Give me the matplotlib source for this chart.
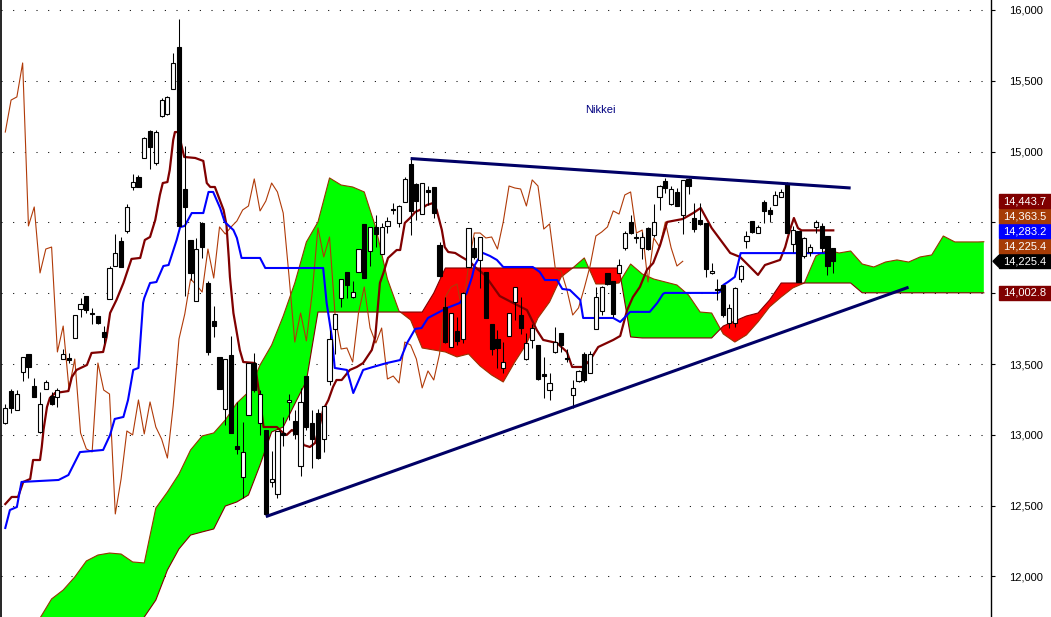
import numpy as np
import matplotlib
matplotlib.use("Agg")
import matplotlib.pyplot as plt
from matplotlib.patches import Rectangle, Polygon

plt.rcParams['font.family'] = ['Liberation Sans', 'DejaVu Sans']

# daily candles, oldest first
opens = [13083, 13309, 13175, 13444, 13571, 13345, 13020, 13324, 13274, 13267,
         13535, 13542, 13684, 13888, 13980, 13860, 13839, 13726, 13959, 14192,
         14369, 14439, 14750, 14821, 14955, 15145, 14919, 15251, 15266, 15442,
         15739, 14736, 14376, 13945, 14496, 14072, 13804, 13550, 13182, 13564,
         12921, 12702, 13140, 13507, 13083, 13034, 12667, 12582, 13013, 13232,
         13098, 12780, 13415, 13083, 13154, 12970, 13380, 13747, 13966, 14150,
         13973, 14150, 14489, 14298, 14468, 14277, 14475, 14595, 14496, 14644,
         14912, 14771, 14559, 14729, 14750, 14340, 13903, 13620, 13733, 13677,
         14185, 14320, 14235, 14150, 13783, 13677, 13472, 13698, 13938, 13846,
         13535, 13670, 13634, 13429, 13316, 13585, 13719, 13542, 13281, 13380,
         13571, 13437, 13747, 13874, 14143, 14086, 14143, 14319, 14503, 14397,
         14319, 14461, 14411, 14679, 14792, 14630, 14715, 14552, 14807, 14531,
         14517, 14496, 14143, 14030, 14058, 13790, 13790, 14100, 14369, 14510,
         14425, 14644, 14588, 14623, 14679, 14778, 14347, 14439, 14263, 14291,
         14468, 14475, 14404, 14320]
highs = [13218, 13324, 13316, 13550, 13571, 13401, 13302, 13387, 13302, 13331,
         13606, 13578, 13846, 13966, 13980, 13895, 13839, 13768, 14192, 14418,
         14397, 14630, 14842, 14835, 15103, 15152, 15152, 15379, 15393, 15696,
         15936, 15037, 14376, 14390, 14503, 14086, 13910, 13550, 13535, 13698,
         13232, 13090, 13507, 13578, 13316, 13034, 12886, 13027, 13126, 13288,
         13175, 13331, 13415, 13175, 13182, 13204, 13740, 13853, 14100, 14150,
         14086, 14312, 14489, 14468, 14552, 14496, 14538, 14637, 14623, 14821,
         14948, 14778, 14778, 14757, 14750, 14362, 13973, 13860, 13832, 14008,
         14461, 14397, 14397, 14150, 13783, 13740, 13655, 13860, 14044, 13973,
         13719, 13783, 13634, 13550, 13437, 13761, 13719, 13606, 13387, 13458,
         13585, 13592, 14044, 14051, 14143, 14086, 14242, 14439, 14552, 14425,
         14432, 14468, 14630, 14764, 14814, 14757, 14743, 14800, 14814, 14637,
         14637, 14496, 14213, 14100, 14058, 13924, 14044, 14199, 14439, 14510,
         14482, 14658, 14609, 14722, 14736, 14785, 14475, 14439, 14397, 14348,
         14517, 14496, 14404, 14320]
lows = [13075, 13154, 13175, 13380, 13401, 13267, 13013, 13324, 13211, 13196,
        13535, 13507, 13684, 13832, 13860, 13783, 13783, 13648, 13959, 14192,
        14185, 14425, 14729, 14750, 14955, 14877, 14905, 15244, 15260, 15442,
        14475, 13980, 14093, 13945, 14249, 13564, 13691, 13324, 13069, 13013,
        12864, 12554, 13140, 13302, 12999, 12427, 12631, 12554, 12921, 13105,
        12970, 12709, 13034, 12766, 12829, 12879, 13352, 13571, 13903, 13966,
        13966, 14150, 14107, 14192, 14326, 14277, 14425, 14559, 14468, 14644,
        14411, 14517, 14559, 14623, 14531, 14114, 13648, 13620, 13634, 13648,
        14185, 14242, 14037, 13825, 13564, 13472, 13437, 13698, 13811, 13712,
        13528, 13613, 13387, 13260, 13246, 13578, 13585, 13514, 13189, 13373,
        13373, 13437, 13747, 13846, 14058, 13832, 14143, 14305, 14418, 14355,
        14242, 14305, 14397, 14588, 14708, 14623, 14616, 14418, 14701, 14432,
        14482, 14114, 14136, 13952, 13832, 13754, 13762, 14079, 14319, 14425,
        14425, 14496, 14503, 14623, 14679, 14425, 14291, 14079, 14249, 14263,
        14425, 14291, 14129, 14143]
closes = [13189, 13189, 13288, 13550, 13479, 13267, 13218, 13373, 13218, 13316,
          13571, 13528, 13846, 13924, 13881, 13853, 13790, 13691, 14178, 14284,
          14185, 14609, 14785, 14750, 15096, 15032, 15138, 15364, 15386, 15626,
          14475, 14609, 14143, 14312, 14326, 13585, 13768, 13324, 13535, 13013,
          12900, 12879, 13507, 13316, 13288, 12441, 12688, 13027, 12999, 13246,
          13006, 13232, 13055, 12970, 12836, 13204, 13677, 13853, 14100, 14058,
          14008, 14312, 14107, 14468, 14418, 14468, 14510, 14588, 14616, 14807,
          14581, 14651, 14778, 14715, 14566, 14122, 13655, 13860, 13663, 14001,
          14461, 14256, 14397, 13825, 13606, 13613, 13514, 13860, 14044, 13754,
          13648, 13754, 13394, 13415, 13366, 13655, 13634, 13535, 13331, 13451,
          13387, 13571, 13973, 14044, 14065, 13853, 14200, 14425, 14425, 14390,
          14397, 14312, 14503, 14757, 14743, 14736, 14616, 14800, 14757, 14453,
          14489, 14171, 14157, 14023, 13846, 13896, 14037, 14192, 14404, 14432,
          14468, 14581, 14559, 14694, 14715, 14425, 14446, 14079, 14390, 14326,
          14503, 14320, 14192, 14225.4]

# conversion line (9) and base line (26), as read: bar index -> value
tenkan_idx = [0, 1.1, 2.2, 3.1, 4.3, 4.8, 6.0, 6.3, 6.6, 7.2, 7.7, 8.6, 10.9, 11.5, 12.3,
              14.1, 14.9, 16.9, 17.5, 18.1, 19.2, 20.4, 21.8, 23.3, 24.1, 25.0, 25.9, 26.7,
              27.2, 28.0, 28.4, 29.0, 29.3, 29.9, 30.9, 32.8, 34.2, 34.8, 35.4, 36.2, 37.7,
              38.2, 38.6, 38.8, 39.4, 40.5, 41.1, 43.1, 44.0, 44.6, 46.9, 48.0, 48.6, 49.5,
              50.3, 51.2, 51.5, 52.6, 53.5, 54.4, 54.9, 55.8, 56.6, 57.2, 58.1, 59.5, 60.7,
              61.8, 63.3, 63.9, 64.7, 65.3, 66.1, 67.6, 68.2, 69.0, 69.9, 70.8, 71.6, 72.8,
              73.9, 74.5, 75.4, 75.9, 76.5, 77.7, 78.8, 80.3, 81.1, 82.8, 85.4, 87.7, 90.1,
              91.8, 92.9, 95.3, 97.0, 97.9, 99.8, 101.0, 102.4, 105.0, 106.2, 107.4, 108.4,
              109.6, 110.8, 111.9, 113.1, 114.3, 117.0, 118.8, 120.1, 122.0, 125.2, 126.9,
              128.3, 130.0, 131.2, 133.8, 134.7, 135.5, 136.2, 136.9, 137.5, 143]
tenkan_val = [12511, 12561, 12561, 12667, 12688, 12822, 12822, 12914, 13034, 13196, 13260,
              13295, 13309, 13408, 13458, 13493, 13578, 13585, 13691, 13860, 13952, 14072,
              14242, 14249, 14376, 14397, 14517, 14694, 14778, 14785, 14870, 15082, 15138,
              15138, 14962, 14955, 14934, 14778, 14750, 14750, 14588, 14482, 14249, 14114,
              13860, 13599, 13514, 13507, 13246, 13055, 13055, 13013, 12999, 13034, 13013,
              12984, 12928, 12914, 12942, 13083, 13175, 13246, 13338, 13387, 13387, 13458,
              13479, 13507, 13599, 13691, 14072, 14143, 14249, 14305, 14305, 14496, 14531,
              14574, 14588, 14623, 14637, 14588, 14446, 14326, 14291, 14284, 14256, 14220,
              14185, 14129, 13980, 13931, 13881, 13740, 13670, 13648, 13585, 13479, 13479,
              13528, 13620, 13670, 13698, 13881, 13973, 14044, 14164, 14213, 14340, 14503,
              14524, 14566, 14602, 14460, 14284, 14256, 14199, 14129, 14199, 14235, 14326,
              14446, 14531, 14460, 14443.7, 14443.7]
kijun_idx = [0, 0.8, 2.0, 2.8, 9.2, 10.9, 12.9, 16.9, 18.1, 18.9, 20.4, 21.2, 22.1, 23.0,
             23.8, 24.0, 25.0, 26.1, 27.3, 28.2, 29.6, 30.2, 31.0, 32.2, 34.2, 35.1, 35.9,
             37.1, 37.9, 39.4, 40.0, 40.8, 44.0, 44.9, 54.9, 55.5, 56.4, 56.9, 59.0, 59.5,
             60.1, 61.8, 63.5, 65.9, 68.2, 69.4, 70.8, 71.9, 73.0, 76.3, 78.5, 79.7, 80.6,
             81.1, 81.6, 82.5, 83.7, 84.9, 86.0, 91.1, 92.3, 93.2, 95.3, 96.2, 97.5, 99.3,
             99.8, 105.0, 106.2, 107.4, 107.9, 111.3, 112.6, 113.6, 113.9, 123.1, 123.4,
             124.0, 124.8, 126.0, 126.5, 127.0, 143]
kijun_val = [12342, 12469, 12490, 12667, 12681, 12716, 12878, 12893, 12999, 13112, 13126,
             13246, 13458, 13472, 13931, 13966, 14072, 14079, 14192, 14199, 14376, 14467,
             14475, 14566, 14566, 14715, 14715, 14602, 14503, 14446, 14390, 14249, 14249,
             14178, 14178, 13931, 13691, 13472, 13458, 13387, 13295, 13458, 13479, 13507,
             13528, 13649, 13748, 13754, 13825, 13896, 13931, 14002, 14114, 14199, 14235,
             14284, 14263, 14235, 14185, 14185, 14150, 14093, 14093, 14030, 14023, 13952,
             13825, 13825, 13797, 13846, 13868, 13868, 13931, 13995, 14002, 14002, 14008,
             14058, 14079, 14115, 14199, 14283.2, 14283.2]

# leading spans A and B (already shifted 26 bars ahead)
cloud_idx = [0, 2, 4, 6, 8, 10, 12, 14, 16, 18, 20, 22, 24, 26, 28, 30, 32, 34, 36, 38,
             40, 42, 44, 46, 48, 50, 52, 54, 56, 58, 60, 62, 64, 66, 68, 70, 72, 74, 76, 78,
             80, 82, 84, 86, 88, 90, 92, 94, 96, 98, 100, 102, 104, 106, 108, 110, 112, 114,
             116, 118, 120, 122, 124, 126, 128, 130, 132, 134, 136, 138, 140, 142, 144, 146,
             148, 150, 152, 154, 156, 158, 160, 162, 164, 166, 168, 169]
span_a = [11268, 11410, 11565, 11706, 11841, 11904, 11996, 12109, 12151, 12165,
          12158, 12102, 12095, 12483, 12596, 12723, 12893, 12992, 13013, 13105,
          13225, 13302, 13493, 13634, 13839, 14072, 14362, 14503, 14814, 14764,
          14750, 14715, 14461, 14100, 13874, 13811, 13613, 13599, 13585, 13550,
          13571, 13486, 13422, 13373, 13514, 13641, 13825, 13938, 14114, 14178,
          14249, 14065, 14065, 14072, 14206, 14136, 14100, 14079, 14058, 13987,
          13867, 13860, 13712, 13655, 13705, 13797, 13903, 13973, 14037, 14072,
          14263, 14305, 14284, 14298, 14206, 14185, 14220, 14235, 14220, 14256,
          14270, 14404, 14362, 14362, 14362, 14363.5]
span_b = [11198, 11198, 11198, 11198, 11198, 11198, 11198, 11198, 11198, 11233,
          11268, 11339, 11713, 11833, 12045, 12194, 12292, 12314, 12335, 12497,
          12526, 12575, 12787, 13020, 13055, 13218, 13380, 13867, 13867, 13867,
          13867, 13867, 13867, 13867, 13867, 13867, 13867, 14001, 14178, 14178,
          14178, 14178, 14178, 14178, 14178, 14178, 14178, 14178, 14178, 14178,
          14178, 14178, 14178, 14178, 13691, 13684, 13684, 13684, 13684, 13684,
          13684, 13684, 13768, 13804, 13839, 13860, 13952, 14072, 14072, 14072,
          14072, 14072, 14072, 14072, 14002.8, 14002.8, 14002.8, 14002.8, 14002.8, 14002.8,
          14002.8, 14002.8, 14002.8, 14002.8, 14002.8, 14002.8]

# hand-drawn triangle: (bar index, price) end points
upper_trend = [(70, 14951), (146, 14743)]
lower_trend = [(45, 12422), (156, 14042)]

shift = 26
title = "Nikkei"
price_ticks = [12000, 12500, 13000, 13500, 14000, 14500, 15000, 15500, 16000]
hidden_ticks = [14000, 14500]   # covered by the value boxes

W, H = 1051, 617
fig = plt.figure(figsize=(W / 100, H / 100), dpi=100)
fig.patch.set_facecolor("white")
ax = fig.add_axes([1 / W, 0, 990 / W, 1])
ax.set_xlim(-0.74, 170.24)
ax.set_ylim(11713.3, 16070.6)

idx = np.arange(len(closes))
ca = np.array(span_a)
cb = np.array(span_b)

# cloud
ax.fill_between(cloud_idx, ca, cb, where=ca >= cb, color="#00ff00", lw=0,
                interpolate=True, zorder=1)
ax.fill_between(cloud_idx, ca, cb, where=ca < cb, color="#ff0000", lw=0,
                interpolate=True, zorder=1)
ax.plot(cloud_idx, span_a, color="#993300", lw=0.8, zorder=2)
ax.plot(cloud_idx, span_b, color="#800000", lw=0.8, zorder=2)

# lagging span = close shifted back
ax.plot(idx[shift:] - shift, closes[shift:], color="#b03a08", lw=0.8, zorder=3)
ax.plot(tenkan_idx, tenkan_val, color="#800000", lw=1.6, zorder=3)
ax.plot(kijun_idx, kijun_val, color="#0000ff", lw=1.5, zorder=3)

# candles
o = np.array(opens)
c = np.array(closes)
ax.vlines(idx, lows, highs, color="black", lw=0.75, zorder=4)
body_lo = np.minimum(o, c)
body_h = np.maximum(np.abs(c - o), 8)
cols = np.where(c >= o, "white", "black")
ax.bar(idx, body_h, bottom=body_lo, width=0.72, color=cols, edgecolor="black",
       linewidth=0.8, zorder=5)

# triangle lines
for (x0, y0), (x1, y1) in (upper_trend, lower_trend):
    ax.plot([x0, x1], [y0, y1], color="#000066", lw=2.2, zorder=6,
            solid_capstyle="butt")

ax.text(0.605, 0.822, title, transform=ax.transAxes, fontsize=8,
        color="#000080", ha="center", va="center")

# axes look
for s in ("top", "bottom"):
    ax.spines[s].set_visible(False)
ax.spines["left"].set_linewidth(1.2)
ax.spines["right"].set_linewidth(1.0)
ax.set_xticks([])
ax.yaxis.tick_right()
ax.set_yticks(price_ticks)
ax.set_yticklabels(["" if v in hidden_ticks else f"{v:,.0f}" for v in price_ticks])
ax.tick_params(axis="y", direction="out", length=3, width=0.8, pad=10, labelsize=8,
               colors="black")
ax.yaxis.grid(True, color="black", lw=0.75, linestyle=(0, (1, 10.2)))
ax.set_axisbelow(True)

# last-value boxes on the price scale
def box(ypix, text, color):
    fig.add_artist(Rectangle((999 / W, (ypix - 7) / H), 52 / W, 14 / H,
                             transform=fig.transFigure, color=color, zorder=10))
    fig.text(1025 / W, ypix / H, text, color="white", fontsize=8, ha="center",
             va="center", zorder=11)

yc = ax.transData.transform((0, closes[-1]))[1]
stack = [(closes[-1], "black"), (closes[-1], "#a63c06"), (kijun_val[-1], "#0000ff"),
         (span_a[-1], "#a63c06"), (tenkan_val[-1], "#800000")]
for k, (v, colr) in enumerate(stack):
    box(yc + 15 * k, f"{v:,.1f}", colr)
fig.add_artist(Polygon([(993 / W, yc / H), (999 / W, (yc + 6) / H), (999 / W, (yc - 6) / H)],
                       closed=True, transform=fig.transFigure, color="black", zorder=10))
yb = ax.transData.transform((0, span_b[-1]))[1]
box(yb, f"{span_b[-1]:,.1f}", "#800000")

fig.savefig("out.png", dpi=100)
